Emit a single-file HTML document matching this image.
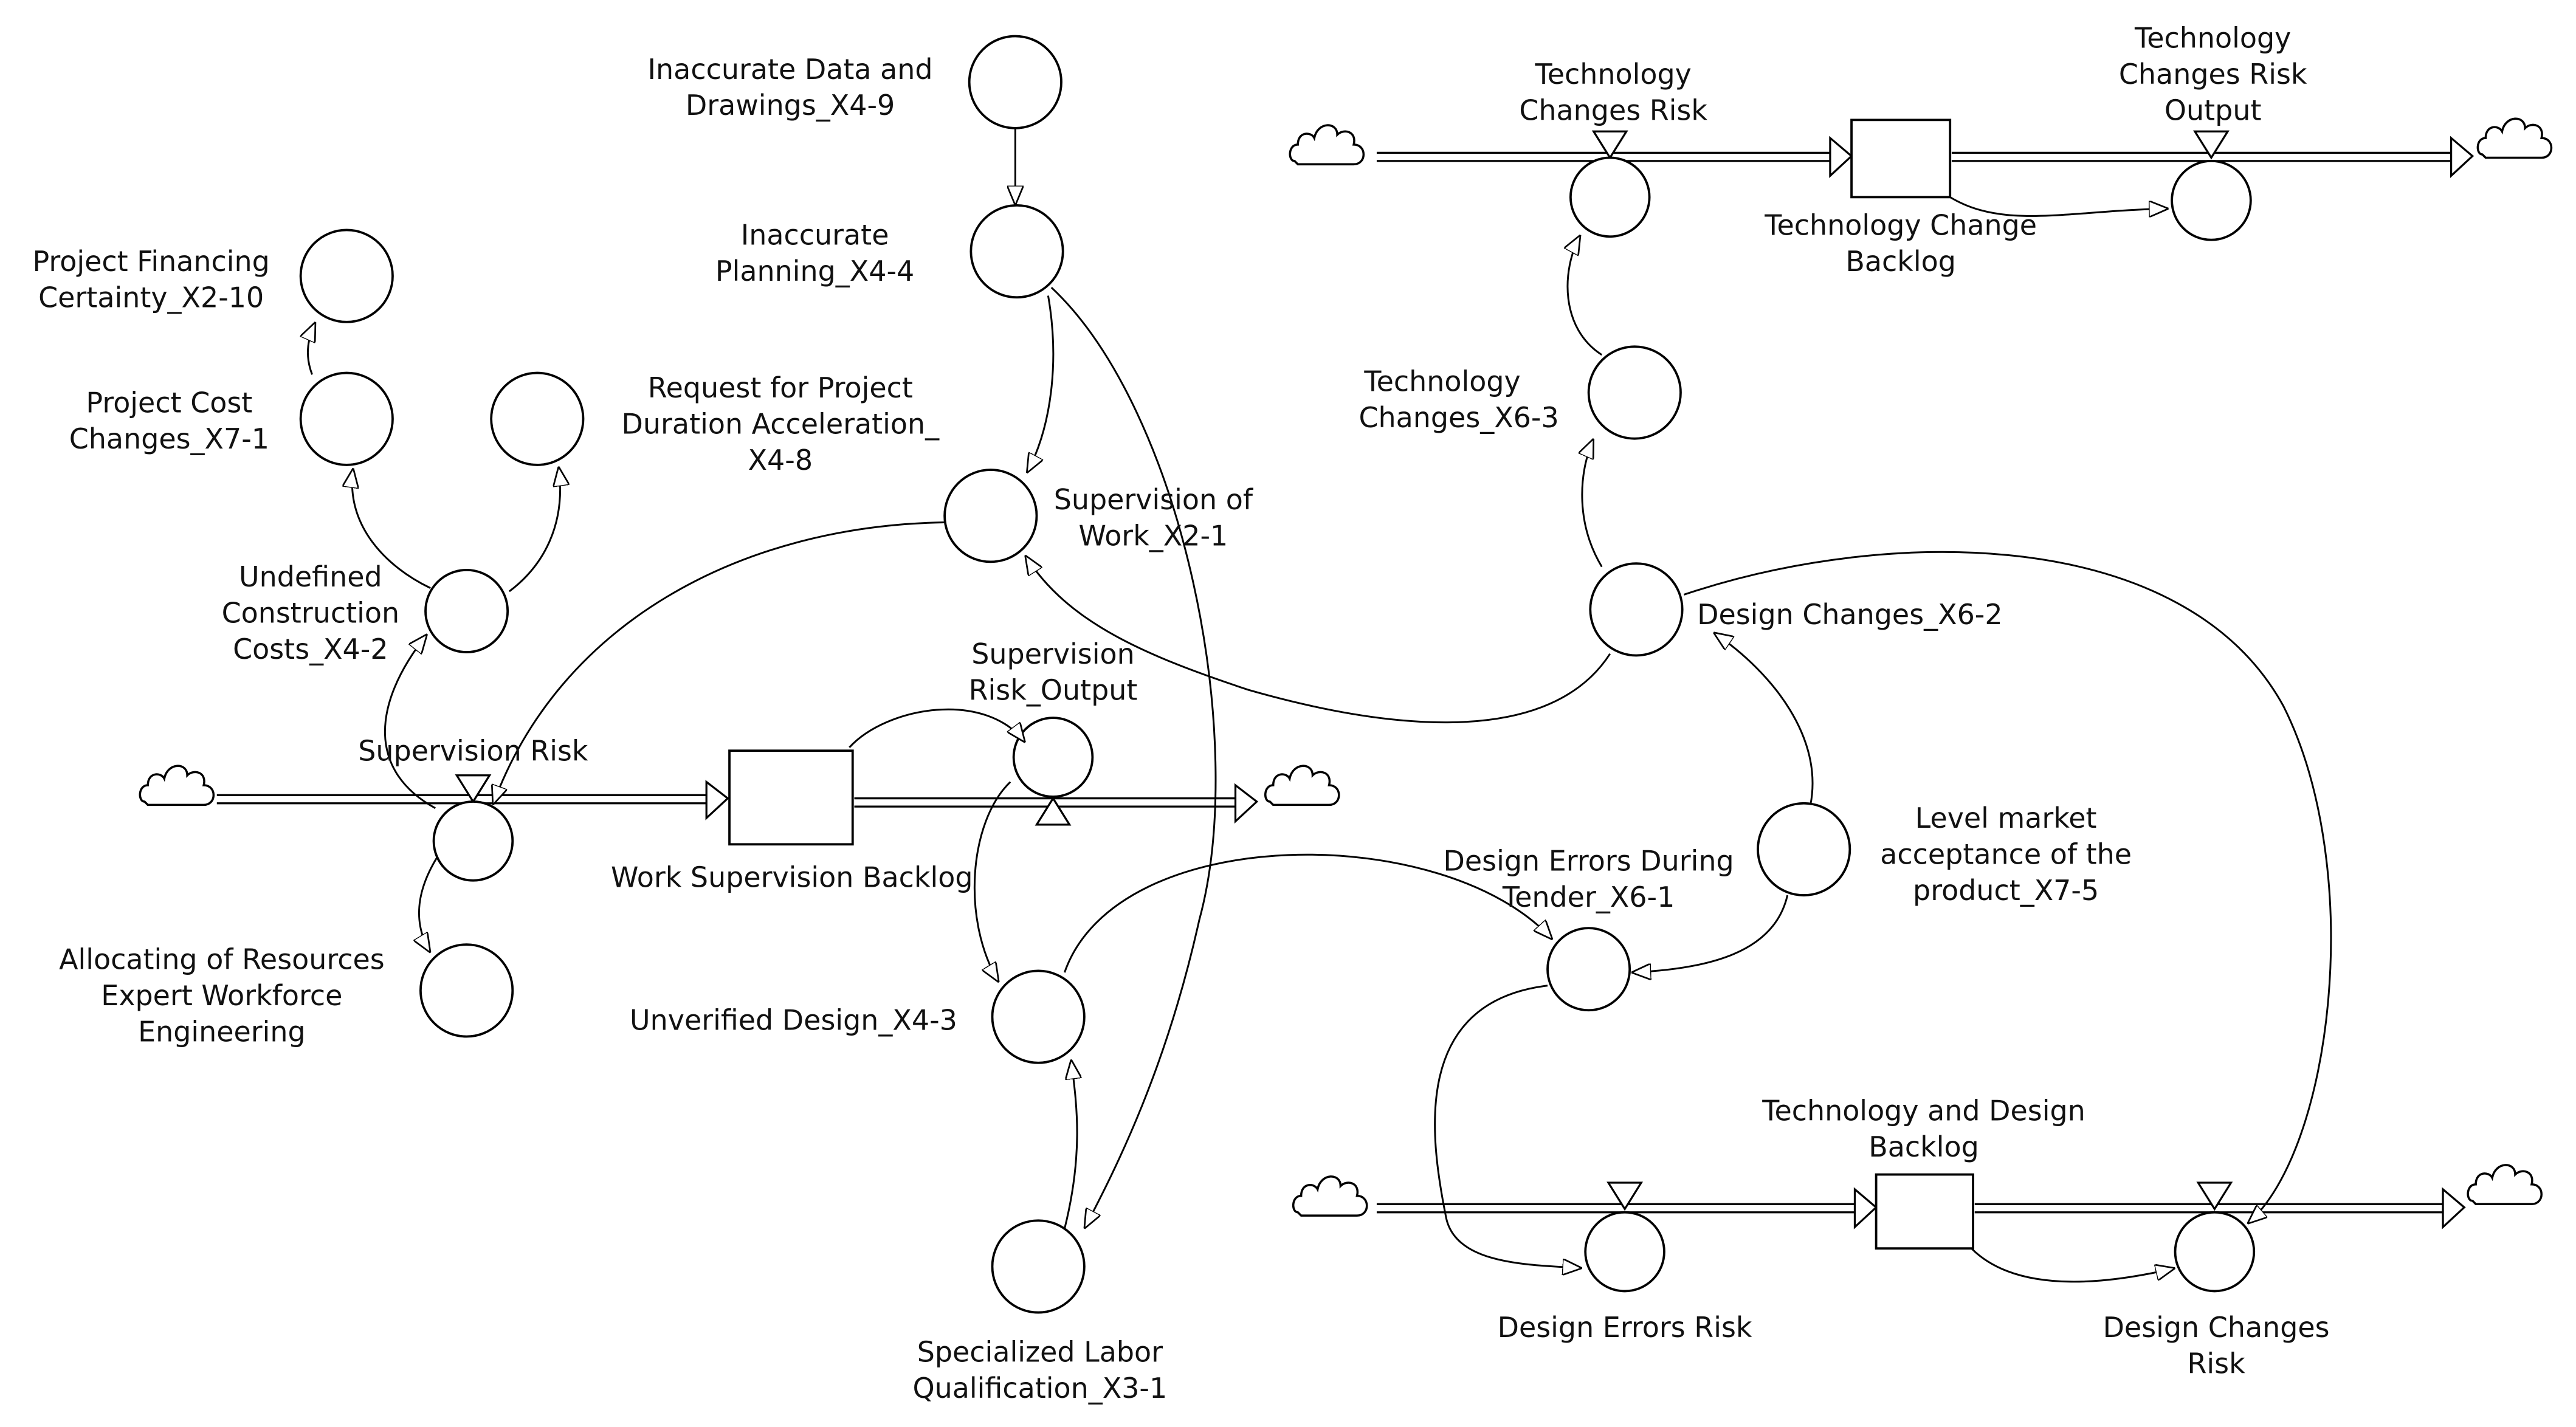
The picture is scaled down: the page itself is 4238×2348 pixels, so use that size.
<!DOCTYPE html>
<html><head><meta charset="utf-8"><style>
html,body{margin:0;padding:0;background:#fff;}
svg{display:block;}
text{font-family:"DejaVu Sans","Liberation Sans",sans-serif;font-size:17px;fill:#111;}
</style></head><body>
<svg width="4238" height="2348" viewBox="0 0 1568 868.7" xmlns="http://www.w3.org/2000/svg">
<defs>
<marker id="a" viewBox="0 0 12 10" refX="12" refY="5" markerWidth="12" markerHeight="10" markerUnits="userSpaceOnUse" orient="auto">
<path d="M0,0 L12,5 L0,10 Z" fill="#fff" stroke="#000" stroke-width="1"/>
</marker>
<g id="cloud"><path d="M-22,8 C-26,8 -26,-2 -20,-2 C-20,-10 -12,-10 -10,-6 C-8,-16 4,-16 4,-8 C8,-12 16,-10 14,-2 C22,-2 22,10 14,10 L-20,10 Z" fill="#fff" stroke="#000" stroke-width="1.3"/></g>
</defs>
<rect width="1568" height="869" fill="#fff"/>
<g fill="none" stroke="#000" stroke-width="1.2">
<!-- pipes -->
<path d="M132,484 H440 M132,489 H440"/>
<path d="M520,486 H755 M520,491 H755"/>
<path d="M838,93 H1115 M838,98 H1115"/>
<path d="M1188,93 H1493 M1188,98 H1493"/>
<path d="M838,733 H1130 M838,738 H1130"/>
<path d="M1202,733 H1488 M1202,738 H1488"/>
</g>
<g fill="#fff" stroke="#000" stroke-width="1.2">
<path d="M430,476 L443,486 L430,498 Z"/>
<path d="M752,478 L765,488 L752,500 Z"/>
<path d="M1114,84 L1127,95 L1114,107 Z"/>
<path d="M1492,84 L1505,95 L1492,107 Z"/>
<path d="M1129,724 L1142,735 L1129,747 Z"/>
<path d="M1487,724 L1500,735 L1487,747 Z"/>
<!-- valves -->
<path d="M278,472 L298,472 L288,488 Z"/>
<path d="M631,502 L651,502 L641,486 Z"/>
<path d="M970,80 L990,80 L980,96 Z"/>
<path d="M1336,80 L1356,80 L1346,96 Z"/>
<path d="M979,720 L999,720 L989,736 Z"/>
<path d="M1338,720 L1358,720 L1348,736 Z"/>
</g>
<use href="#cloud" x="110" y="480"/>
<use href="#cloud" x="795" y="480"/>
<use href="#cloud" x="810" y="90"/>
<use href="#cloud" x="1533" y="86"/>
<use href="#cloud" x="812" y="730"/>
<use href="#cloud" x="1527" y="723"/>
<!-- stocks -->
<g fill="#fff" stroke="#000" stroke-width="1.4">
<rect x="444" y="457" width="75" height="57"/>
<rect x="1127" y="73" width="60" height="47"/>
<rect x="1142" y="715" width="59" height="45"/>
</g>
<!-- circles -->
<g fill="#fff" stroke="#000" stroke-width="1.4">
<circle cx="618" cy="50" r="28"/>
<circle cx="619" cy="153" r="28"/>
<circle cx="211" cy="168" r="28"/>
<circle cx="211" cy="255" r="28"/>
<circle cx="327" cy="255" r="28"/>
<circle cx="603" cy="314" r="28"/>
<circle cx="284" cy="372" r="25"/>
<circle cx="288" cy="512" r="24"/>
<circle cx="284" cy="603" r="28"/>
<circle cx="641" cy="461" r="24"/>
<circle cx="632" cy="619" r="28"/>
<circle cx="632" cy="771" r="28"/>
<circle cx="980" cy="120" r="24"/>
<circle cx="1346" cy="122" r="24"/>
<circle cx="995" cy="239" r="28"/>
<circle cx="996" cy="371" r="28"/>
<circle cx="1098" cy="517" r="28"/>
<circle cx="967" cy="590" r="25"/>
<circle cx="989" cy="762" r="24"/>
<circle cx="1348" cy="762" r="24"/>
</g>
<!-- connectors -->
<g fill="none" stroke="#000" stroke-width="1.1" marker-end="url(#a)">
<path d="M618,78 L618,125"/>
<path d="M638,180 C645,220 640,260 625,288"/>
<path d="M640,175 C720,250 760,450 730,560 C710,650 680,710 660,748"/>
<path d="M190,228 C185,215 188,205 192,196"/>
<path d="M262,358 C235,345 210,320 215,285"/>
<path d="M310,360 C330,345 345,320 340,284"/>
<path d="M575,318 C450,320 340,380 300,490"/>
<path d="M980,398 C940,460 830,440 760,420 C700,400 650,380 624,338"/>
<path d="M265,492 C225,470 225,430 260,386"/>
<path d="M266,522 C255,540 250,560 262,580"/>
<path d="M517,455 C540,430 600,420 624,452"/>
<path d="M615,476 C590,500 585,560 608,598"/>
<path d="M648,592 C680,500 880,500 945,572"/>
<path d="M648,748 C660,700 655,670 652,645"/>
<path d="M1102,490 C1110,450 1080,410 1043,385"/>
<path d="M1088,545 C1080,580 1040,590 993,592"/>
<path d="M942,600 C860,610 870,690 880,740 C885,770 930,770 963,772"/>
<path d="M975,216 C950,200 950,165 962,143"/>
<path d="M975,345 C960,320 960,290 970,267"/>
<path d="M1025,362 C1150,320 1330,320 1390,430 C1440,530 1420,700 1368,745"/>
<path d="M1187,120 C1220,140 1260,128 1320,127"/>
<path d="M1200,760 C1230,790 1290,780 1324,772"/>
</g>
<!-- labels -->
<g text-anchor="middle">
<text x="481" y="48">Inaccurate Data and</text><text x="481" y="70">Drawings_X4-9</text>
<text x="496" y="149">Inaccurate</text><text x="496" y="171">Planning_X4-4</text>
<text x="92" y="165">Project Financing</text><text x="92" y="187">Certainty_X2-10</text>
<text x="103" y="251">Project Cost</text><text x="103" y="273">Changes_X7-1</text>
<text x="475" y="242">Request for Project</text><text x="475" y="264">Duration Acceleration_</text><text x="475" y="286">X4-8</text>
<text x="702" y="310">Supervision of</text><text x="702" y="332">Work_X2-1</text>
<text x="189" y="357">Undefined</text><text x="189" y="379">Construction</text><text x="189" y="401">Costs_X4-2</text>
<text x="288" y="463">Supervision Risk</text>
<text x="482" y="540">Work Supervision Backlog</text>
<text x="641" y="404">Supervision</text><text x="641" y="426">Risk_Output</text>
<text x="135" y="590">Allocating of Resources</text><text x="135" y="612">Expert Workforce</text><text x="135" y="634">Engineering</text>
<text x="483" y="627">Unverified Design_X4-3</text>
<text x="633" y="829">Specialized Labor</text><text x="633" y="851">Qualification_X3-1</text>
<text x="982" y="51">Technology</text><text x="982" y="73">Changes Risk</text>
<text x="1347" y="29">Technology</text><text x="1347" y="51">Changes Risk</text><text x="1347" y="73">Output</text>
<text x="1157" y="143">Technology Change</text><text x="1157" y="165">Backlog</text>
<text x="878" y="238">Technology</text><text x="888" y="260">Changes_X6-3</text>
<text x="1126" y="380">Design Changes_X6-2</text>
<text x="1221" y="504">Level market</text><text x="1221" y="526">acceptance of the</text><text x="1221" y="548">product_X7-5</text>
<text x="967" y="530">Design Errors During</text><text x="967" y="552">Tender_X6-1</text>
<text x="1171" y="682">Technology and Design</text><text x="1171" y="704">Backlog</text>
<text x="989" y="814">Design Errors Risk</text>
<text x="1349" y="814">Design Changes</text><text x="1349" y="836">Risk</text>
</g>
</svg>
</body></html>
